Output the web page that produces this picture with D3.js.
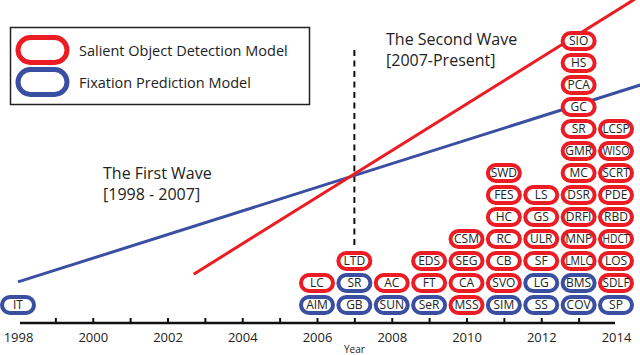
<!DOCTYPE html>
<html>
<head>
<meta charset="utf-8">
<script src="https://cdn.jsdelivr.net/npm/d3@7"></script>
<style>
  body { margin: 0; background: #fff; }
  svg { display: block; font-family: "Open Sans", sans-serif; }
</style>
</head>
<body>
<svg id="chart" width="640" height="355"></svg>
<script>
// one column of models per year, listed from the bottom up
const years = [1998, 2006, 2007, 2008, 2009, 2010, 2011, 2012, 2013, 2014];
const modelNames = [
    ["IT"],
    ["AIM", "LC"],
    ["GB", "SR", "LTD"],
    ["SUN", "AC"],
    ["SeR", "FT", "EDS"],
    ["MSS", "CA", "SEG", "CSM"],
    ["SIM", "SVO", "CB", "RC", "HC", "FES", "SWD"],
    ["SS", "LG", "SF", "ULR", "GS", "LS"],
    ["COV", "BMS", "LMLC", "MNP", "DRFI", "DSR", "MC", "GMR", "SR", "GC", "PCA", "HS", "SIO"],
    ["SP", "SDLF", "LOS", "HDCT", "RBD", "PDE", "SCRT", "WISO", "LCSP"]
];
// F = fixation prediction, S = salient object detection
const modelKinds = ["F", "FS", "FFS", "FS", "FSS", "SSSS", "FSSSSSS", "FFSSSS", "FFSSSSSSSSSSS", "FSSSSSSSS"];

// trend lines, [year, stack height]
const salientTrend = [[2002.7, 1.4], [2014.5, 13.9]];
const fixationTrend = [[1998, 1.05], [2014.65, 10.0]];

const tickYears = d3.range(1998, 2015);
const waveSplit = 2007;

const RED = "#ec1c24";
const BLUE = "#3b4fa2";

const svg = d3.select("#chart");

const x = d3.scaleLinear().domain([1998, 2014]).range([18, 616]);
const y = d3.scaleLinear().domain([0, 13]).range([305, 19]);

// legend
const legend = svg.append("g");
legend.append("rect")
    .attr("x", 10.5).attr("y", 27.5)
    .attr("width", 299).attr("height", 77)
    .attr("fill", "none").attr("stroke", "#222").attr("stroke-width", 1.5);

const legendItems = [
    {label: "Salient Object Detection Model", color: RED, cy: 50},
    {label: "Fixation Prediction Model", color: BLUE, cy: 82}
];
legendItems.forEach(d => {
    legend.append("rect")
        .attr("x", 18).attr("y", d.cy - 12.5)
        .attr("width", 49).attr("height", 25)
        .attr("rx", 12.5)
        .attr("fill", "none").attr("stroke", d.color).attr("stroke-width", 5);
    legend.append("text")
        .attr("x", 79).attr("y", d.cy + 6)
        .attr("font-size", 14.5)
        .attr("fill", "#222")
        .text(d.label);
});

// wave captions
function caption(lines, tx, ty) {
    let t = svg.append("text").attr("font-size", 16).attr("fill", "#222");
    lines.forEach((s, i) => {
        t.append("tspan").attr("x", tx).attr("y", ty + i * 21).text(s);
    });
}
caption(["The First Wave", "[1998 - 2007]"], 103, 179);
caption(["The Second Wave", "[2007-Present]"], 386, 45);

// dashed split line
svg.append("line")
    .attr("x1", x(waveSplit)).attr("x2", x(waveSplit))
    .attr("y1", 50).attr("y2", 247)
    .attr("stroke", "#111").attr("stroke-width", 2)
    .attr("stroke-dasharray", "6,4.5");

// trend lines
const line = d3.line().x(d => x(d[0])).y(d => y(d[1]));
svg.append("path").attr("d", line(fixationTrend))
    .attr("fill", "none").attr("stroke", BLUE).attr("stroke-width", 3);
svg.append("path").attr("d", line(salientTrend))
    .attr("fill", "none").attr("stroke", RED).attr("stroke-width", 3);

// model pills
let pills = [];
years.forEach((yr, i) => {
    modelNames[i].forEach((name, row) => {
        pills.push({year: yr, row: row, name: name, kind: modelKinds[i][row]});
    });
});

const pw = 32, ph = 16;
const pill = svg.append("g").selectAll("g")
    .data(pills)
    .join("g")
    .attr("transform", d => `translate(${x(d.year)},${y(d.row)})`);

pill.append("rect")
    .attr("x", -pw / 2).attr("y", -ph / 2)
    .attr("width", pw).attr("height", ph)
    .attr("rx", ph / 2)
    .attr("fill", "#fff")
    .attr("stroke", d => d.kind === "S" ? RED : BLUE)
    .attr("stroke-width", 4);

pill.append("text")
    .attr("text-anchor", "middle")
    .attr("dy", "0.36em")
    .attr("font-size", 12)
    .attr("fill", "#222")
    .text(d => d.name)
    .each(function () {
        if (this.getComputedTextLength() > 27) {
            d3.select(this).attr("textLength", 27).attr("lengthAdjust", "spacingAndGlyphs");
        }
    });

// axis
const axisY = 323;
const axis = svg.append("g")
    .attr("transform", `translate(0,${axisY})`)
    .call(d3.axisBottom(x)
        .tickValues(tickYears)
        .tickFormat(d => d % 2 === 0 ? d : "")
        .tickSizeInner(-5)
        .tickSizeOuter(0)
        .tickPadding(10));
axis.select(".domain").remove();
axis.selectAll(".tick line")
    .attr("stroke", "#111").attr("stroke-width", 2)
    .filter(d => d === 1998 || d === 2014).remove();
axis.selectAll(".tick text")
    .attr("font-size", 13)
    .attr("font-family", "'Open Sans', sans-serif")
    .attr("fill", "#222");
axis.append("line")
    .attr("x1", 20).attr("x2", 615)
    .attr("stroke", "#111").attr("stroke-width", 2.5);

svg.append("text")
    .attr("x", x(waveSplit)).attr("y", 353)
    .attr("text-anchor", "middle")
    .attr("font-size", 10)
    .attr("fill", "#222")
    .text("Year");
</script>
</body>
</html>
